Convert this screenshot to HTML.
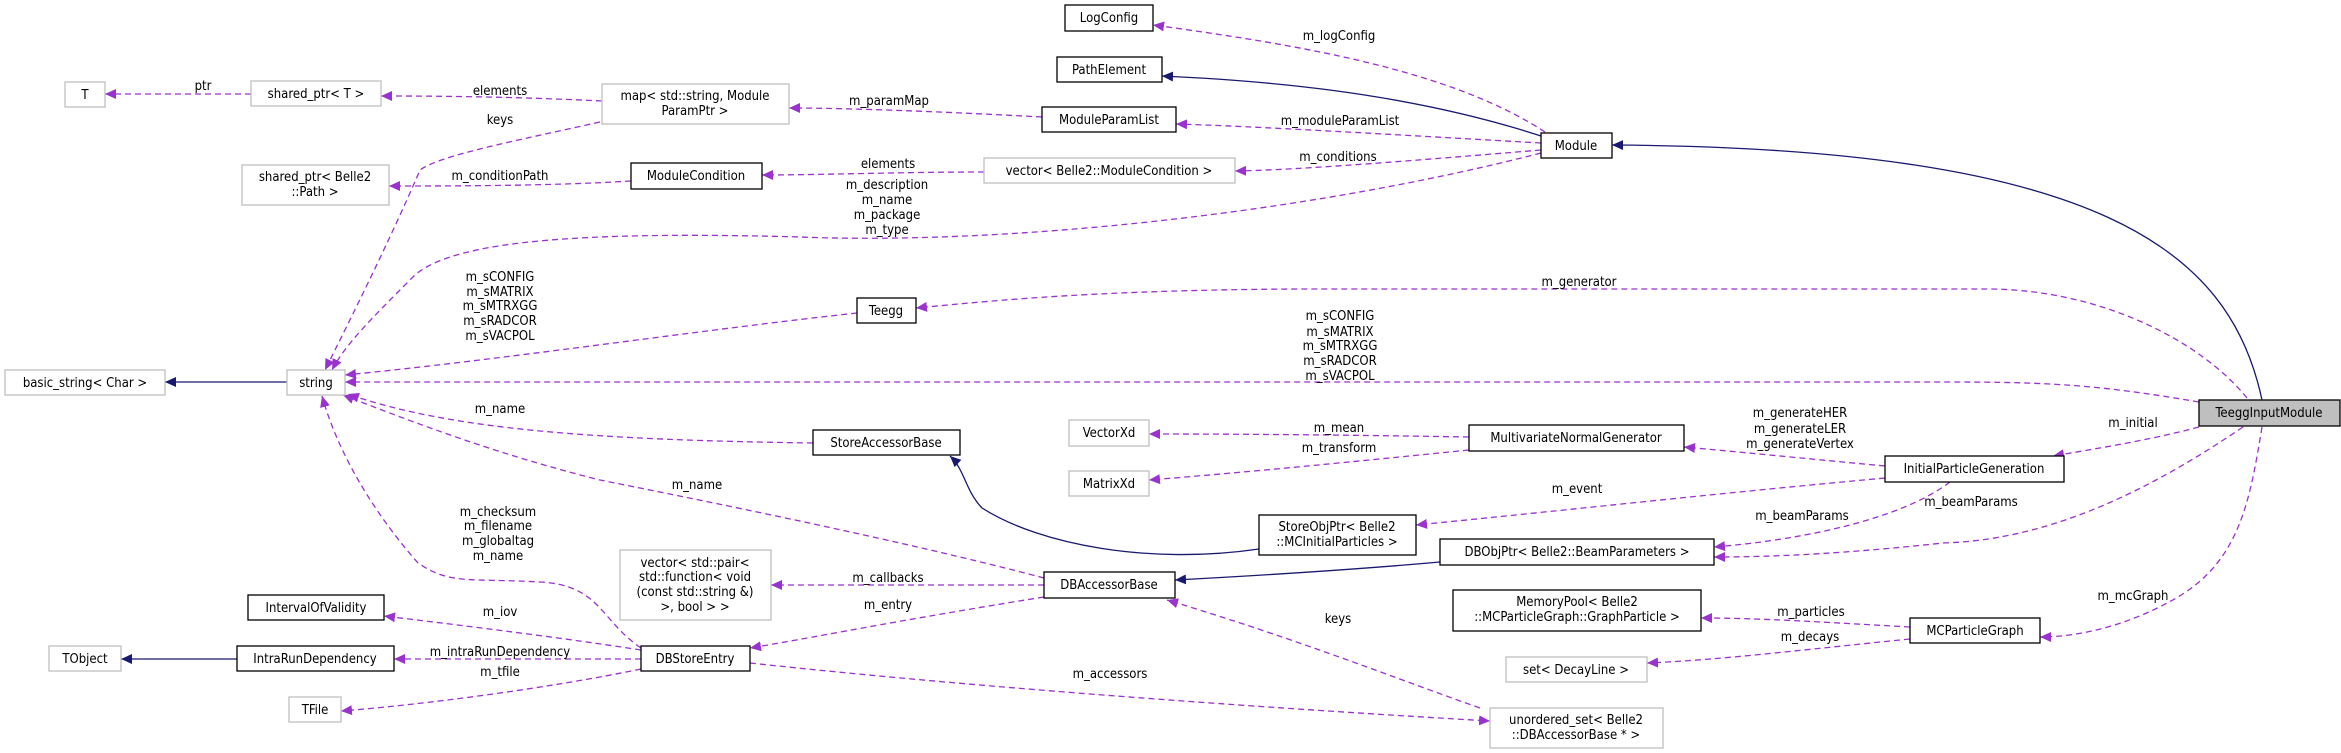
<!DOCTYPE html>
<html><head><meta charset="utf-8"><style>
html,body{margin:0;padding:0;background:#fff;}
svg{display:block;}
text{font-family:"DejaVu Sans Condensed","DejaVu Sans","Liberation Sans",sans-serif;font-size:13px;fill:#000;}
.n text{text-anchor:middle;}
.l{text-anchor:middle;}
.d{fill:none;stroke:#9a32cd;stroke-width:1.3;stroke-dasharray:6,4;marker-end:url(#ap);}
.s{fill:none;stroke:#191970;stroke-width:1.3;marker-end:url(#an);}
.g{fill:#fff;stroke:#bfbfbf;stroke-width:1.3;}
.b{fill:#fff;stroke:#000;stroke-width:1.3;}
</style></head><body>
<svg width="2341" height="753" viewBox="0 0 2341 753" xmlns="http://www.w3.org/2000/svg">
<defs>
<marker id="ap" markerWidth="12" markerHeight="10" refX="11" refY="5" orient="auto" markerUnits="userSpaceOnUse"><path d="M0,0 L11,5 L0,10 z" fill="#9a32cd"/></marker>
<marker id="an" markerWidth="12" markerHeight="10" refX="11" refY="5" orient="auto" markerUnits="userSpaceOnUse"><path d="M0,0 L11,5 L0,10 z" fill="#191970"/></marker>
</defs>

<!-- edges -->
<path class="d" d="M251,94 L105,94"/>
<path class="d" d="M602,101 C520,97 450,96 381,96"/>
<path class="d" d="M600,122 C520,140 440,155 420,170 C390,240 350,320 325,370"/>
<path class="d" d="M631,181 C550,186 450,186 389,186"/>
<path class="d" d="M1042,117 C950,112 850,108 789,108"/>
<path class="d" d="M984,172 C900,172 820,175 762,175"/>
<path class="d" d="M1545,132 C1450,70 1300,45 1153,25"/>
<path class="s" d="M1541,136 C1400,90 1250,80 1162,76"/>
<path class="d" d="M1541,143 C1400,135 1250,126 1176,124"/>
<path class="d" d="M1541,150 C1420,160 1300,170 1235,171"/>
<path class="d" d="M1541,153 C1300,215 1000,245 800,237 C550,230 440,245 410,280 C370,320 345,345 332,370"/>
<path class="d" d="M857,313 C700,330 500,360 345,375"/>
<path class="d" d="M2247,398 C2200,340 2100,290 1990,289 L1300,289 C1100,290 1000,300 916,308"/>
<path class="d" d="M2199,402 C2100,385 2050,382 1950,382 L345,382"/>
<path class="d" d="M813,443 C600,440 450,430 348,394"/>
<path class="d" d="M1044,578 C900,540 700,500 600,480 C500,455 420,425 343,395"/>
<path class="d" d="M641,648 C600,620 600,585 540,582 C470,578 450,585 418,563 C380,520 340,460 322,396"/>
<path class="d" d="M1044,585 L771,585"/>
<path class="d" d="M1044,597 C900,620 800,640 750,648"/>
<path class="d" d="M641,650 C550,636 450,624 384,616"/>
<path class="d" d="M641,659 L394,659"/>
<path class="d" d="M641,669 C550,688 420,705 341,711"/>
<path class="s" d="M237,659 L121,659"/>
<path class="s" d="M287,382 L165,382"/>
<path class="s" d="M1259,549 C1150,565 1040,545 982,508 C965,490 965,470 950,456"/>
<path class="s" d="M1440,562 C1350,570 1250,576 1175,580"/>
<path class="d" d="M1469,437 C1350,435 1250,434 1149,434"/>
<path class="d" d="M1469,450 C1350,462 1250,472 1149,480"/>
<path class="d" d="M1885,466 C1800,458 1740,452 1684,447"/>
<path class="d" d="M1885,478 C1700,495 1550,512 1416,525"/>
<path class="d" d="M1950,482 C1900,520 1800,540 1714,547"/>
<path class="d" d="M2199,427 C2150,440 2100,448 2053,456"/>
<path class="d" d="M2243,427 C2150,490 2050,540 1943,543 C1850,553 1780,557 1714,557"/>
<path class="d" d="M2262,427 C2250,500 2240,560 2178,597 C2130,625 2080,637 2040,637"/>
<path class="d" d="M1910,627 C1820,622 1760,618 1701,618"/>
<path class="d" d="M1910,639 C1800,650 1720,660 1647,663"/>
<path class="d" d="M1480,708 C1400,680 1300,640 1167,600"/>
<path class="d" d="M750,663 C1000,690 1300,710 1490,721"/>

<!-- edge labels -->
<text class="l" x="203" y="90">ptr</text>
<text class="l" x="500" y="95">elements</text>
<text class="l" x="500" y="124">keys</text>
<text class="l" x="500" y="180">m_conditionPath</text>
<text class="l" x="889" y="105">m_paramMap</text>
<text class="l" x="888" y="168">elements</text>
<text class="l" x="1339" y="40">m_logConfig</text>
<text class="l" x="1340" y="125">m_moduleParamList</text>
<text class="l" x="1338" y="161">m_conditions</text>
<text class="l" x="887" y="189">m_description</text>
<text class="l" x="887" y="204">m_name</text>
<text class="l" x="887" y="219">m_package</text>
<text class="l" x="887" y="234">m_type</text>
<text class="l" x="500" y="281">m_sCONFIG</text>
<text class="l" x="500" y="296">m_sMATRIX</text>
<text class="l" x="500" y="310">m_sMTRXGG</text>
<text class="l" x="500" y="325">m_sRADCOR</text>
<text class="l" x="500" y="340">m_sVACPOL</text>
<text class="l" x="1579" y="286">m_generator</text>
<text class="l" x="1340" y="320">m_sCONFIG</text>
<text class="l" x="1340" y="336">m_sMATRIX</text>
<text class="l" x="1340" y="350">m_sMTRXGG</text>
<text class="l" x="1340" y="365">m_sRADCOR</text>
<text class="l" x="1340" y="380">m_sVACPOL</text>
<text class="l" x="500" y="413">m_name</text>
<text class="l" x="697" y="489">m_name</text>
<text class="l" x="498" y="516">m_checksum</text>
<text class="l" x="498" y="530">m_filename</text>
<text class="l" x="498" y="545">m_globaltag</text>
<text class="l" x="498" y="560">m_name</text>
<text class="l" x="500" y="616">m_iov</text>
<text class="l" x="500" y="656">m_intraRunDependency</text>
<text class="l" x="500" y="676">m_tfile</text>
<text class="l" x="888" y="582">m_callbacks</text>
<text class="l" x="888" y="609">m_entry</text>
<text class="l" x="1338" y="623">keys</text>
<text class="l" x="1110" y="678">m_accessors</text>
<text class="l" x="1339" y="432">m_mean</text>
<text class="l" x="1339" y="452">m_transform</text>
<text class="l" x="1577" y="493">m_event</text>
<text class="l" x="1800" y="417">m_generateHER</text>
<text class="l" x="1800" y="433">m_generateLER</text>
<text class="l" x="1800" y="448">m_generateVertex</text>
<text class="l" x="2133" y="427">m_initial</text>
<text class="l" x="1802" y="520">m_beamParams</text>
<text class="l" x="1971" y="506">m_beamParams</text>
<text class="l" x="2133" y="600">m_mcGraph</text>
<text class="l" x="1811" y="616">m_particles</text>
<text class="l" x="1810" y="641">m_decays</text>

<!-- nodes -->
<g class="n">
<rect class="g" x="65" y="82" width="40" height="25"/><text x="85" y="99">T</text>
<rect class="g" x="251" y="81" width="130" height="25"/><text x="316" y="98">shared_ptr&lt; T &gt;</text>
<rect class="g" x="602" y="84" width="187" height="40"/><text x="695" y="100">map&lt; std::string, Module</text><text x="695" y="115">ParamPtr &gt;</text>
<rect class="g" x="242" y="165" width="147" height="40"/><text x="315" y="181">shared_ptr&lt; Belle2</text><text x="315" y="196">::Path &gt;</text>
<rect class="b" x="631" y="163" width="131" height="26"/><text x="696" y="180">ModuleCondition</text>
<rect class="g" x="5" y="370" width="160" height="25"/><text x="85" y="387">basic_string&lt; Char &gt;</text>
<rect class="g" x="287" y="370" width="58" height="25"/><text x="316" y="387">string</text>
<rect class="g" x="620" y="550" width="151" height="70"/><text x="695" y="567">vector&lt; std::pair&lt;</text><text x="695" y="581">std::function&lt; void</text><text x="695" y="596">(const std::string &amp;)</text><text x="695" y="611">&gt;, bool &gt; &gt;</text>
<rect class="b" x="248" y="595" width="136" height="25"/><text x="316" y="612">IntervalOfValidity</text>
<rect class="g" x="49" y="646" width="72" height="25"/><text x="85" y="663">TObject</text>
<rect class="b" x="237" y="646" width="157" height="25"/><text x="315" y="663">IntraRunDependency</text>
<rect class="b" x="641" y="646" width="109" height="25"/><text x="695" y="663">DBStoreEntry</text>
<rect class="g" x="289" y="697" width="52" height="25"/><text x="315" y="714">TFile</text>
<rect class="b" x="1065" y="5" width="88" height="26"/><text x="1109" y="22">LogConfig</text>
<rect class="b" x="1057" y="57" width="105" height="25"/><text x="1109" y="74">PathElement</text>
<rect class="b" x="1042" y="107" width="134" height="25"/><text x="1109" y="124">ModuleParamList</text>
<rect class="b" x="1541" y="133" width="71" height="25"/><text x="1576" y="150">Module</text>
<rect class="g" x="984" y="158" width="251" height="25"/><text x="1109" y="175">vector&lt; Belle2::ModuleCondition &gt;</text>
<rect class="b" x="857" y="298" width="59" height="25"/><text x="886" y="315">Teegg</text>
<rect class="b" x="813" y="430" width="147" height="25"/><text x="886" y="447">StoreAccessorBase</text>
<rect class="g" x="1069" y="420" width="80" height="26"/><text x="1109" y="437">VectorXd</text>
<rect class="g" x="1069" y="471" width="80" height="25"/><text x="1109" y="488">MatrixXd</text>
<rect class="b" x="1469" y="425" width="215" height="26"/><text x="1576" y="442">MultivariateNormalGenerator</text>
<rect class="b" x="1259" y="515" width="157" height="40"/><text x="1337" y="531">StoreObjPtr&lt; Belle2</text><text x="1337" y="546">::MCInitialParticles &gt;</text>
<rect class="b" x="1440" y="539" width="274" height="26"/><text x="1577" y="556">DBObjPtr&lt; Belle2::BeamParameters &gt;</text>
<rect class="b" x="1044" y="572" width="131" height="26"/><text x="1109" y="589">DBAccessorBase</text>
<rect class="b" x="1453" y="590" width="248" height="41"/><text x="1577" y="606">MemoryPool&lt; Belle2</text><text x="1577" y="621">::MCParticleGraph::GraphParticle &gt;</text>
<rect class="g" x="1506" y="657" width="141" height="25"/><text x="1576" y="674">set&lt; DecayLine &gt;</text>
<rect class="g" x="1490" y="708" width="173" height="40"/><text x="1576" y="724">unordered_set&lt; Belle2</text><text x="1576" y="739">::DBAccessorBase * &gt;</text>
<rect class="b" x="1910" y="618" width="130" height="25"/><text x="1975" y="635">MCParticleGraph</text>
<rect class="b" x="1885" y="456" width="179" height="26"/><text x="1974" y="473">InitialParticleGeneration</text>
<rect x="2199" y="400" width="141" height="26" fill="#bfbfbf" stroke="#000" stroke-width="1.3"/><text x="2269" y="417">TeeggInputModule</text>
</g>
<path class="s" d="M2262,400 C2230,250 2100,148 1612,145"/>
</svg>
</body></html>
